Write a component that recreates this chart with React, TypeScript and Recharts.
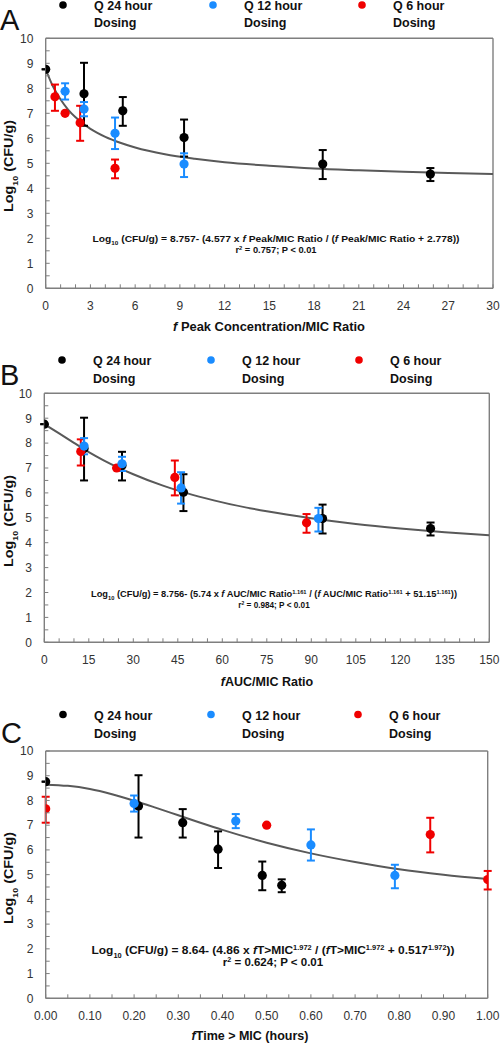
import React from "react";
import { ComposedChart, Scatter, Line, XAxis, YAxis, ErrorBar, ReferenceLine } from "recharts";

const FONT = '"Liberation Sans", Arial, sans-serif';
const BLACK = "#000000";
const BLUE = "#1a8cff";
const RED = "#f00000";
const CURVE = "#595959";
const AXIS = "#7f7f7f";
const TICK_TEXT = "#333333";

// measured log10 CFU/g per regimen (same mice in all three panels)
const q24Y = [8.76, 7.78, 7.1, 6.03, 4.97, 4.57];
const q24Lo = [8.76, 6.5, 6.5, 5.27, 4.37, 4.29];
const q24Hi = [8.76, 9.02, 7.65, 6.75, 5.53, 4.81];
const q12Y = [7.88, 7.17, 6.2, 4.97];
const q12Lo = [7.55, 6.88, 5.57, 4.45];
const q12Hi = [8.2, 7.45, 6.83, 5.4];
const q6Y = [7.66, 7.0, 6.62, 4.8];
const q6Lo = [7.1, 7.0, 5.9, 4.4];
const q6Hi = [8.15, 7.0, 7.3, 5.15];

// panel A: fPeak/MIC
const peakQ24X = [0, 2.57, 5.17, 9.28, 18.58, 25.8];
const peakQ12X = [1.3, 2.57, 4.65, 9.28];
const peakQ6X = [0.62, 1.3, 2.31, 4.65];
const peakCurveX = [0, 0.5, 1, 1.5, 2, 3, 4, 5, 6, 8, 10, 12, 15, 18, 21, 24, 27, 30];
const peakCurveY = [8.76, 8.06, 7.55, 7.15, 6.84, 6.38, 6.06, 5.82, 5.63, 5.36, 5.18, 5.04, 4.9, 4.79, 4.72, 4.66, 4.61, 4.57];
const peakLabels = [0, 3, 6, 9, 12, 15, 18, 21, 24, 27, 30];

// panel B: fAUC/MIC
const aucQ24X = [0, 13.4, 26.2, 46.9, 93.8, 130.2];
const aucQ12X = [13.4, 26.2, 46.1, 92.4];
const aucQ6X = [12.3, 24.4, 44.0, 88.4];
const aucCurveX = [0, 5, 10, 15, 20, 30, 40, 50, 60, 75, 90, 105, 120, 135, 150];
const aucCurveY = [8.76, 8.39, 8.01, 7.64, 7.31, 6.75, 6.29, 5.92, 5.62, 5.26, 4.98, 4.75, 4.57, 4.42, 4.3];
const aucLabels = [0, 15, 30, 45, 60, 75, 90, 105, 120, 135, 150];

// panel C: fT>MIC
const timeQ24X = [0, 0.21, 0.31, 0.39, 0.49, 0.534];
const timeQ12X = [0.2, 0.43, 0.6, 0.79];
const timeQ6X = [0, 0.5, 0.87, 1.0];
const timeCurveX = [0, 0.05, 0.1, 0.15, 0.2, 0.25, 0.3, 0.35, 0.4, 0.5, 0.6, 0.7, 0.8, 0.9, 1.0];
const timeCurveY = [8.64, 8.59, 8.46, 8.25, 7.99, 7.7, 7.4, 7.1, 6.81, 6.29, 5.86, 5.51, 5.22, 5.0, 4.82];
const timeLabels = [0, 0.1, 0.2, 0.3, 0.4, 0.5, 0.6, 0.7, 0.8, 0.9, 1.0];

const yLabels = [0, 1, 2, 3, 4, 5, 6, 7, 8, 9, 10];

const rows = (xs: number[], ys: number[], lo: number[], hi: number[]) =>
  xs.map((x, i) => ({ x, y: ys[i], err: [ys[i] - lo[i], hi[i] - ys[i]] }));

const curveRows = (xs: number[], ys: number[]) => xs.map((x, i) => ({ x, y: ys[i] }));

const steps = (max: number, step: number) =>
  Array.from({ length: Math.round(max / step) + 1 }, (_, i) => +(i * step).toFixed(4));

const dot = (color: string) => (p: any) => <circle cx={p.cx} cy={p.cy} r={4.6} fill={color} />;

type PanelProps = {
  top: number;
  height: number;
  plotTop: number;
  plotHeight: number;
  plotLeft: number;
  plotRight: number;
  xMax: number;
  minorStep: number;
  xLabels: number[];
  fmt: (v: number) => string;
  q24X: number[];
  q12X: number[];
  q6X: number[];
  curveX: number[];
  curveY: number[];
};

function Panel(p: PanelProps) {
  const yAxisW = 40;
  const xAxisH = 30;
  const axisY = p.plotTop + p.plotHeight;
  const margin = {
    top: p.plotTop,
    left: p.plotLeft - yAxisW,
    right: 500 - p.plotRight,
    bottom: p.height - p.plotTop - p.plotHeight - xAxisH,
  };

  const xTick = (t: any) => {
    const v = t.payload.value;
    const major = p.xLabels.some((l) => Math.abs(l - v) < 1e-6);
    return (
      <g>
        <line x1={t.x} x2={t.x} y1={axisY} y2={axisY - 4} stroke={AXIS} strokeWidth={1} />
        {major && (
          <text x={t.x} y={axisY + 21.8} textAnchor="middle" fontSize={12} fill={TICK_TEXT} fontFamily={FONT}>
            {p.fmt(v)}
          </text>
        )}
      </g>
    );
  };

  const yTick = (t: any) => {
    const v = t.payload.value;
    const major = yLabels.includes(v);
    return (
      <g>
        <line x1={p.plotLeft} x2={p.plotLeft + 4} y1={t.y} y2={t.y} stroke={AXIS} strokeWidth={1} />
        {major && (
          <text x={p.plotLeft - 12.3} y={t.y + 4.3} textAnchor="end" fontSize={12} fill={TICK_TEXT} fontFamily={FONT}>
            {v}
          </text>
        )}
      </g>
    );
  };

  return (
    <div style={{ position: "absolute", left: 0, top: p.top }}>
      <ComposedChart width={500} height={p.height} margin={margin}>
        <XAxis
          type="number"
          dataKey="x"
          domain={[0, p.xMax]}
          ticks={steps(p.xMax, p.minorStep)}
          interval={0}
          height={xAxisH}
          tickSize={0}
          tickLine={false}
          tick={xTick}
          axisLine={{ stroke: AXIS, strokeWidth: 1.4 }}
          allowDataOverflow
        />
        <YAxis
          type="number"
          dataKey="y"
          domain={[0, 10]}
          ticks={steps(10, 0.5)}
          interval={0}
          width={yAxisW}
          tickSize={0}
          tickLine={false}
          tick={yTick}
          axisLine={{ stroke: AXIS, strokeWidth: 1.4 }}
          allowDataOverflow
        />
        <ReferenceLine y={10} stroke={AXIS} strokeWidth={1.4} />
        <ReferenceLine x={p.xMax} stroke={AXIS} strokeWidth={1.4} />
        <Line
          data={curveRows(p.curveX, p.curveY)}
          dataKey="y"
          type="monotone"
          stroke={CURVE}
          strokeWidth={2}
          dot={false}
          activeDot={false}
          isAnimationActive={false}
        />
        <Scatter data={rows(p.q24X, q24Y, q24Lo, q24Hi)} dataKey="y" shape={dot(BLACK)} isAnimationActive={false}>
          <ErrorBar dataKey="err" direction="y" width={4} stroke={BLACK} strokeWidth={2} isAnimationActive={false} />
        </Scatter>
        <Scatter data={rows(p.q6X, q6Y, q6Lo, q6Hi)} dataKey="y" shape={dot(RED)} isAnimationActive={false}>
          <ErrorBar dataKey="err" direction="y" width={4} stroke={RED} strokeWidth={2} isAnimationActive={false} />
        </Scatter>
        <Scatter data={rows(p.q12X, q12Y, q12Lo, q12Hi)} dataKey="y" shape={dot(BLUE)} isAnimationActive={false}>
          <ErrorBar dataKey="err" direction="y" width={4} stroke={BLUE} strokeWidth={2} isAnimationActive={false} />
        </Scatter>
      </ComposedChart>
    </div>
  );
}

const Sup = ({ children, size }: { children: React.ReactNode; size: number }) => (
  <tspan baselineShift="super" fontSize={size * 0.62}>{children}</tspan>
);

const Sub = ({ children, size }: { children: React.ReactNode; size: number }) => (
  <tspan baselineShift="sub" fontSize={size * 0.62}>{children}</tspan>
);

function Legend({ markY, base1, xs }: { markY: number; base1: number; xs: [number, number][] }) {
  const names = ["Q 24 hour", "Q 12 hour", "Q 6 hour"];
  const colors = [BLACK, BLUE, RED];
  return (
    <g>
      {xs.map(([mx, tx], i) => (
        <g key={i}>
          <circle cx={mx} cy={markY} r={3.8} fill={colors[i]} />
          <text x={tx} y={base1} fontSize={12.5} fontWeight="bold" fill="#111">{names[i]}</text>
          <text x={tx} y={base1 + 17.5} fontSize={12.5} fontWeight="bold" fill="#111">Dosing</text>
        </g>
      ))}
    </g>
  );
}

function YTitle({ cy }: { cy: number }) {
  return (
    <text transform={`translate(13, ${cy}) rotate(-90)`} textAnchor="middle" fontSize={12} fontWeight="bold" fill="#111"
      textLength={92} lengthAdjust="spacingAndGlyphs">
      Log<Sub size={12}>10</Sub> (CFU/g)
    </text>
  );
}

function Overlay() {
  return (
    <svg width={500} height={1043} style={{ position: "absolute", left: 0, top: 0, pointerEvents: "none" }} fontFamily={FONT}>
      {/* panel A */}
      <text x={0} y={30} fontSize={29} fill="#111">A</text>
      <Legend markY={5} base1={9.5} xs={[[63, 94], [213, 244], [362, 393]]} />
      <YTitle cy={166} />
      <text x={276} y={241.5} textAnchor="middle" fontSize={9.3} fontWeight="bold" fill="#111" textLength={367} lengthAdjust="spacingAndGlyphs">
        Log<Sub size={9.3}>10</Sub> (CFU/g) = 8.757- (4.577 x <tspan fontStyle="italic">f</tspan> Peak/MIC Ratio / (<tspan fontStyle="italic">f</tspan> Peak/MIC Ratio + 2.778))
      </text>
      <text x={276} y={253.3} textAnchor="middle" fontSize={9.3} fontWeight="bold" fill="#111">
        r<Sup size={9.3}>2</Sup> = 0.757; P &lt; 0.01
      </text>
      <text x={269} y={331} textAnchor="middle" fontSize={12.5} fontWeight="bold" fill="#111" textLength={192} lengthAdjust="spacingAndGlyphs">
        <tspan fontStyle="italic">f</tspan> Peak Concentration/MIC Ratio
      </text>

      {/* panel B */}
      <text x={0} y={385} fontSize={29} fill="#111">B</text>
      <Legend markY={360} base1={365} xs={[[62, 93], [211, 242], [359, 390]]} />
      <YTitle cy={521} />
      <text x={274} y={597} textAnchor="middle" fontSize={8.2} fontWeight="bold" fill="#111" textLength={366} lengthAdjust="spacingAndGlyphs">
        Log<Sub size={8.2}>10</Sub> (CFU/g) = 8.756- (5.74 x <tspan fontStyle="italic">f</tspan> AUC/MIC Ratio<Sup size={8.2}>1.161</Sup> / (<tspan fontStyle="italic">f</tspan> AUC/MIC Ratio<Sup size={8.2}>1.161</Sup> + 51.15<Sup size={8.2}>1.161</Sup>))
      </text>
      <text x={274} y={607.5} textAnchor="middle" fontSize={8.2} fontWeight="bold" fill="#111">
        r<Sup size={8.2}>2</Sup> = 0.984; P &lt; 0.01
      </text>
      <text x={267} y={685.5} textAnchor="middle" fontSize={12.5} fontWeight="bold" fill="#111">
        <tspan fontStyle="italic">f</tspan>AUC/MIC Ratio
      </text>

      {/* panel C */}
      <text x={1} y={743} fontSize={29} fill="#111">C</text>
      <Legend markY={714.5} base1={720} xs={[[63, 94], [211, 242], [358, 389]]} />
      <YTitle cy={878} />
      <text x={273} y={953.5} textAnchor="middle" fontSize={11.5} fontWeight="bold" fill="#111" textLength={363} lengthAdjust="spacingAndGlyphs">
        Log<Sub size={11.5}>10</Sub> (CFU/g) = 8.64- (4.86 x <tspan fontStyle="italic">f</tspan>T&gt;MIC<Sup size={11.5}>1.972</Sup> / (<tspan fontStyle="italic">f</tspan>T&gt;MIC<Sup size={11.5}>1.972</Sup> + 0.517<Sup size={11.5}>1.972</Sup>))
      </text>
      <text x={273} y={965.5} textAnchor="middle" fontSize={11.5} fontWeight="bold" fill="#111">
        r<Sup size={11.5}>2</Sup> = 0.624; P &lt; 0.01
      </text>
      <text x={250} y={1040} textAnchor="middle" fontSize={12.5} fontWeight="bold" fill="#111">
        <tspan fontStyle="italic">f</tspan>Time &gt; MIC (hours)
      </text>
    </svg>
  );
}

export default function App() {
  return (
    <div style={{ position: "absolute", left: 0, top: 0, width: 500, height: 1043, background: "#fff", fontFamily: FONT }}>
      <Panel
        top={0} height={355} plotTop={38.3} plotHeight={250} plotLeft={45.7} plotRight={493}
        xMax={30} minorStep={1} xLabels={peakLabels} fmt={(v) => String(v)}
        q24X={peakQ24X} q12X={peakQ12X} q6X={peakQ6X} curveX={peakCurveX} curveY={peakCurveY}
      />
      <Panel
        top={355} height={355} plotTop={38.3} plotHeight={249} plotLeft={44.3} plotRight={489.3}
        xMax={150} minorStep={5} xLabels={aucLabels} fmt={(v) => String(v)}
        q24X={aucQ24X} q12X={aucQ12X} q6X={aucQ6X} curveX={aucCurveX} curveY={aucCurveY}
      />
      <Panel
        top={713} height={330} plotTop={38} plotHeight={247.3} plotLeft={45.7} plotRight={487.7}
        xMax={1} minorStep={0.05} xLabels={timeLabels} fmt={(v) => v.toFixed(2)}
        q24X={timeQ24X} q12X={timeQ12X} q6X={timeQ6X} curveX={timeCurveX} curveY={timeCurveY}
      />
      <Overlay />
    </div>
  );
}
